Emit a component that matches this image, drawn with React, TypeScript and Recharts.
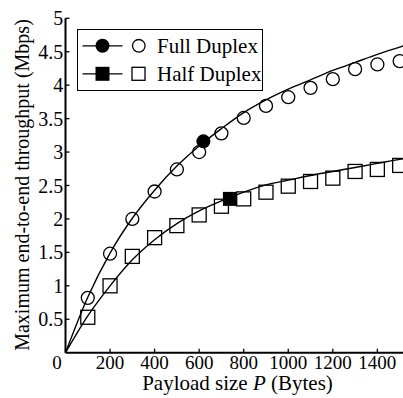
import React from 'react';
import { ComposedChart, Line, Scatter, XAxis, YAxis, Legend, Label } from 'recharts';

const FONT = '"Liberation Serif", "Times New Roman", serif';

// measured points
const payloads = [100, 200, 300, 400, 500, 600, 700, 800, 900, 1000, 1100, 1200, 1300, 1400, 1500];
const fullMeasured = [0.82, 1.48, 2.0, 2.41, 2.74, 3.0, 3.28, 3.51, 3.69, 3.82, 3.96, 4.09, 4.24, 4.31, 4.36];
const halfMeasured = [0.53, 1.0, 1.44, 1.72, 1.9, 2.06, 2.19, 2.3, 2.4, 2.49, 2.56, 2.61, 2.71, 2.74, 2.8];

// analytical curves
const curveX = [0, 100, 200, 300, 400, 500, 600, 700, 800, 900, 1000, 1100, 1200, 1300, 1400, 1500, 1520];
const fullCurve = [0, 0.83, 1.49, 2.01, 2.43, 2.79, 3.09, 3.35, 3.59, 3.78, 3.94, 4.08, 4.22, 4.34, 4.46, 4.57, 4.59];
const halfCurve = [0, 0.55, 1.0, 1.39, 1.69, 1.93, 2.12, 2.27, 2.4, 2.51, 2.58, 2.65, 2.71, 2.77, 2.83, 2.89, 2.9];

// optimum points
const fullOptX = [619];
const fullOptY = [3.16];
const halfOptX = [738];
const halfOptY = [2.3];

const xTicks = [0, 200, 400, 600, 800, 1000, 1200, 1400];
const yTicks = [0.5, 1, 1.5, 2, 2.5, 3, 3.5, 4, 4.5, 5];

const fullPts = payloads.map((x, i) => ({ x, y: fullMeasured[i] }));
const halfPts = payloads.map((x, i) => ({ x, y: halfMeasured[i] }));
const fullLine = curveX.map((x, i) => ({ x, y: fullCurve[i] }));
const halfLine = curveX.map((x, i) => ({ x, y: halfCurve[i] }));
const fullOpt = fullOptX.map((x, i) => ({ x, y: fullOptY[i] }));
const halfOpt = halfOptX.map((x, i) => ({ x, y: halfOptY[i] }));

const OpenCircle = (p: any) => (
  <circle cx={p.cx} cy={p.cy} r={6.5} fill="none" stroke="#000" strokeWidth={1.3} />
);
const OpenSquare = (p: any) => (
  <rect x={p.cx - 7} y={p.cy - 7} width={14} height={14} fill="none" stroke="#000" strokeWidth={1.3} />
);
const FilledCircle = (p: any) => <circle cx={p.cx} cy={p.cy} r={7} fill="#000" />;
const FilledSquare = (p: any) => <rect x={p.cx - 7} y={p.cy - 7} width={14} height={14} fill="#000" />;

const XTick = (p: any) => {
  const v = p.payload.value;
  const dx = v === 0 ? -8.5 : 0;
  return (
    <text x={p.x + dx} y={p.y} dy="0.71em" textAnchor="middle" fill="#000" fontSize={19} fontFamily={FONT}>
      {v}
    </text>
  );
};

const renderLegend = () => (
  <div style={{ width: 186, height: 62, border: '1px solid #000', boxSizing: 'border-box', background: '#fff' }}>
    <svg width={184} height={60} style={{ display: 'block' }}>
      <line x1={4.5} x2={44.5} y1={15.8} y2={15.8} stroke="#000" strokeWidth={1.3} />
      <circle cx={24.5} cy={15.8} r={7} fill="#000" />
      <circle cx={60.8} cy={15.8} r={6.3} fill="none" stroke="#000" strokeWidth={1.3} />
      <text x={79} y={22.7} fontSize={21} fontFamily={FONT} fill="#000">Full Duplex</text>
      <line x1={4.5} x2={44.5} y1={43.8} y2={43.8} stroke="#000" strokeWidth={1.3} />
      <rect x={17.5} y={36.8} width={14} height={14} fill="#000" />
      <rect x={54} y={37.3} width={13} height={13} fill="none" stroke="#000" strokeWidth={1.3} />
      <text x={79} y={51} fontSize={21} fontFamily={FONT} fill="#000">Half Duplex</text>
    </svg>
  </div>
);

const YLabel = () => (
  <text
    x={22}
    y={185}
    transform="rotate(-90 22 185)"
    textAnchor="middle"
    dominantBaseline="central"
    fontSize={20}
    fontFamily={FONT}
    fill="#000"
  >
    Maximum end-to-end throughput (Mbps)
  </text>
);

const XLabel = () => (
  <text x={237.5} y={390} textAnchor="middle" fontSize={21} fontFamily={FONT} fill="#000">
    Payload size <tspan fontStyle="italic">P</tspan> (Bytes)
  </text>
);

export default function App() {
  return (
    <div style={{ position: 'absolute', left: 0, top: 0, width: 403, height: 398, overflow: 'hidden', background: '#fff' }}>
      <ComposedChart
        width={420}
        height={398}
        margin={{ top: 18.3, right: 15.9, bottom: 0, left: 0 }}
      >
        <XAxis
          type="number"
          dataKey="x"
          domain={[0, 1520]}
          ticks={xTicks}
          interval={0}
          allowDataOverflow
          height={45.3}
          axisLine={{ stroke: '#000', strokeWidth: 2 }}
          tickLine={{ stroke: '#000', strokeWidth: 1.3 }}
          tickSize={-4}
          tickMargin={6.6}
          tick={<XTick />}
        >
          <Label content={<XLabel />} />
        </XAxis>
        <XAxis
          xAxisId="top"
          orientation="top"
          type="number"
          dataKey="x"
          domain={[0, 1520]}
          ticks={xTicks}
          interval={0}
          height={0}
          axisLine={{ stroke: '#000', strokeWidth: 2 }}
          tickLine={{ stroke: '#000', strokeWidth: 1.3 }}
          tickSize={-4}
          tick={false}
        />
        <YAxis
          type="number"
          domain={[0, 5]}
          ticks={yTicks}
          interval={0}
          width={65.5}
          axisLine={{ stroke: '#000', strokeWidth: 2 }}
          tickLine={{ stroke: '#000', strokeWidth: 1.3 }}
          tickSize={-4}
          tickMargin={6.2}
          tick={{ fill: '#000', fontSize: 20, fontFamily: FONT }}
        >
          <Label content={<YLabel />} />
        </YAxis>
        <Legend
          layout="vertical"
          align="center"
          verticalAlign="middle"
          content={renderLegend}
          wrapperStyle={{ left: 77, top: 29, width: 186, height: 62 }}
        />
        <Line data={fullLine} dataKey="y" type="monotone" stroke="#000" strokeWidth={1.4} dot={false} isAnimationActive={false} legendType="none" />
        <Line data={halfLine} dataKey="y" type="monotone" stroke="#000" strokeWidth={1.4} dot={false} isAnimationActive={false} legendType="none" />
        <Scatter data={fullPts} dataKey="y" shape={<OpenCircle />} isAnimationActive={false} />
        <Scatter data={halfPts} dataKey="y" shape={<OpenSquare />} isAnimationActive={false} />
        <Scatter data={fullOpt} dataKey="y" shape={<FilledCircle />} isAnimationActive={false} />
        <Scatter data={halfOpt} dataKey="y" shape={<FilledSquare />} isAnimationActive={false} />
      </ComposedChart>
    </div>
  );
}
